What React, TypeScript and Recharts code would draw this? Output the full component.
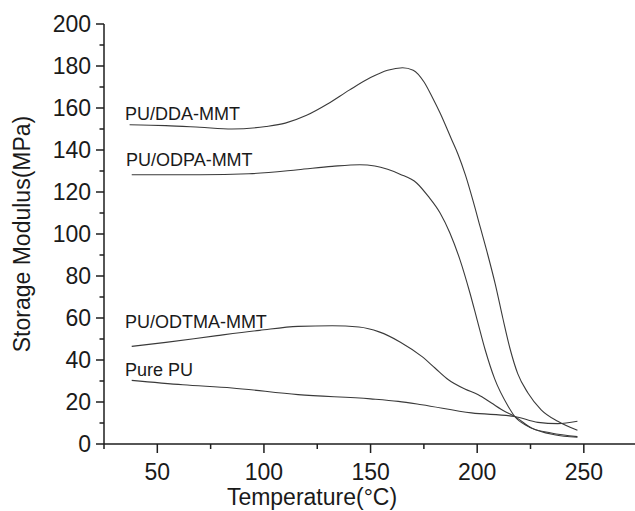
import React from 'react';
import { LineChart, Line, XAxis, YAxis, ReferenceDot, Label } from 'recharts';

const FONT = '"Liberation Sans", Arial, Helvetica, sans-serif';
const AXIS = '#1e1e1e';
const TXT = '#1a1a1a';
const CURVE = '#3a3a3a';

// Temperature (°C) and storage modulus (MPa) per sample
const ddaT = [37, 54, 70, 85, 101, 110, 120, 130, 140, 150, 158, 165, 170, 175, 179, 182.6, 188, 191, 194.5, 198, 201.5, 205, 208.5, 212, 215.5, 219, 223.8, 230, 237.8, 247];
const ddaV = [152.0, 151.6, 150.8, 150.0, 151.2, 152.8, 156.5, 162, 168.5, 174.5, 178, 179.2, 178, 172.5, 165, 157.6, 145, 138, 128, 116, 103, 90, 76, 60, 45, 33.5, 24.3, 16.3, 10.8, 6.5];

const odpaT = [38, 70, 93, 116, 132, 145, 152, 158, 163.8, 171.6, 177, 182.6, 187.2, 191.9, 196.6, 200, 203.7, 208.2, 214.5, 217.6, 223.8, 234.7, 247];
const odpaV = [128.2, 128.2, 128.7, 130.6, 132.2, 133.0, 132.4, 130.8, 128.5, 124.3, 118, 110, 100.5, 87.8, 71.9, 59, 45, 31, 18, 13.1, 8.4, 5.2, 3.5];

const odtmaT = [38, 54, 78, 98, 116, 132, 144.5, 154, 164, 174, 180.2, 186.5, 194.2, 200.5, 206.7, 213, 217.6, 225.5, 236.2, 247];
const odtmaV = [46.5, 48.4, 51.6, 54.1, 56.0, 56.3, 55.7, 53.4, 48.5, 41.7, 36.2, 30.6, 26.2, 23.5, 19.5, 15.5, 13.1, 7.6, 4.4, 3.2];

const pureT = [38, 62, 85, 116, 150, 163, 174, 197.3, 217.6, 228.5, 237.8, 247];
const pureV = [30.3, 28.2, 26.7, 23.5, 21.5, 20.3, 18.7, 14.8, 13.1, 10.3, 9.7, 10.8];

const xTicks = [25, 50, 75, 100, 125, 150, 175, 200, 225, 250];
const yTicks = [0, 10, 20, 30, 40, 50, 60, 70, 80, 90, 100, 110, 120, 130, 140, 150, 160, 170, 180, 190, 200];

// annotation labels: [text, T, MPa]
const labelNames = ['PU/DDA-MMT', 'PU/ODPA-MMT', 'PU/ODTMA-MMT', 'Pure PU'];
const labelT = [34.8, 35.3, 34.8, 34.8];
const labelV = [154.1, 132.2, 55.2, 32.5];

const build = (ts: number[], vs: number[]) => ts.map((t, i) => ({ t, v: vs[i] }));
const series = [
  { name: 'PU/DDA-MMT', data: build(ddaT, ddaV) },
  { name: 'PU/ODPA-MMT', data: build(odpaT, odpaV) },
  { name: 'PU/ODTMA-MMT', data: build(odtmaT, odtmaV) },
  { name: 'Pure PU', data: build(pureT, pureV) },
];

const XTick = (props: any) => {
  const { x, y, payload } = props;
  const v = payload.value;
  const major = v % 50 === 0;
  return (
    <g>
      <line x1={x} y1={y} x2={x} y2={y + (major ? 9 : 5)} stroke={AXIS} strokeWidth={1.5} />
      {major && (
        <text x={x} y={y + 36} textAnchor="middle" fontSize={23} fill={TXT} fontFamily={FONT}>
          {v}
        </text>
      )}
    </g>
  );
};

const YTick = (props: any) => {
  const { x, y, payload } = props;
  const v = payload.value;
  const major = v % 20 === 0;
  return (
    <g>
      <line x1={x} y1={y} x2={x - (major ? 8 : 4.5)} y2={y} stroke={AXIS} strokeWidth={1.5} />
      {major && (
        <text x={x - 13} y={y} dy="0.36em" textAnchor="end" fontSize={23} fill={TXT} fontFamily={FONT}>
          {v}
        </text>
      )}
    </g>
  );
};

export default function App() {
  return (
    <div style={{ position: 'absolute', left: 0, top: 0, width: 635, height: 511, overflow: 'hidden', background: '#fff' }}>
      <LineChart width={635} height={511} margin={{ top: 24, right: 0, bottom: 0, left: 0 }}>
        <XAxis
          dataKey="t"
          type="number"
          domain={[25, 274]}
          allowDataOverflow
          ticks={xTicks}
          interval={0}
          height={67}
          tickSize={0}
          tickMargin={0}
          tickLine={false}
          axisLine={{ stroke: AXIS, strokeWidth: 1.5 }}
          tick={<XTick />}
        >
          <Label
            content={() => (
              <text x={312} y={505} textAnchor="middle" fontSize={23} fill={TXT} fontFamily={FONT}>
                Temperature(°C)
              </text>
            )}
          />
        </XAxis>
        <YAxis
          type="number"
          domain={[0, 200]}
          allowDataOverflow
          ticks={yTicks}
          interval={0}
          width={104}
          tickSize={0}
          tickMargin={0}
          tickLine={false}
          axisLine={{ stroke: AXIS, strokeWidth: 1.5 }}
          tick={<YTick />}
        >
          <Label
            content={() => (
              <text transform="translate(30, 234) rotate(-90)" textAnchor="middle" fontSize={23} fill={TXT} fontFamily={FONT}>
                Storage Modulus(MPa)
              </text>
            )}
          />
        </YAxis>
        {series.map((s) => (
          <Line
            key={s.name}
            data={s.data}
            dataKey="v"
            type="monotone"
            stroke={CURVE}
            strokeWidth={1.1}
            dot={false}
            activeDot={false}
            isAnimationActive={false}
          />
        ))}
        {labelNames.map((n, i) => (
          <ReferenceDot
            key={n}
            x={labelT[i]}
            y={labelV[i]}
            r={1}
            fill="none"
            stroke="none"
            label={(p: any) => {
              const vb = p.viewBox || {};
              const cx = (vb.x ?? 0) + (vb.width ?? 0) / 2;
              const cy = (vb.y ?? 0) + (vb.height ?? 0) / 2;
              return (
                <text x={cx} y={cy} textAnchor="start" fontSize={18} fill={TXT} fontFamily={FONT}>
                  {n}
                </text>
              );
            }}
          />
        ))}
      </LineChart>
    </div>
  );
}
